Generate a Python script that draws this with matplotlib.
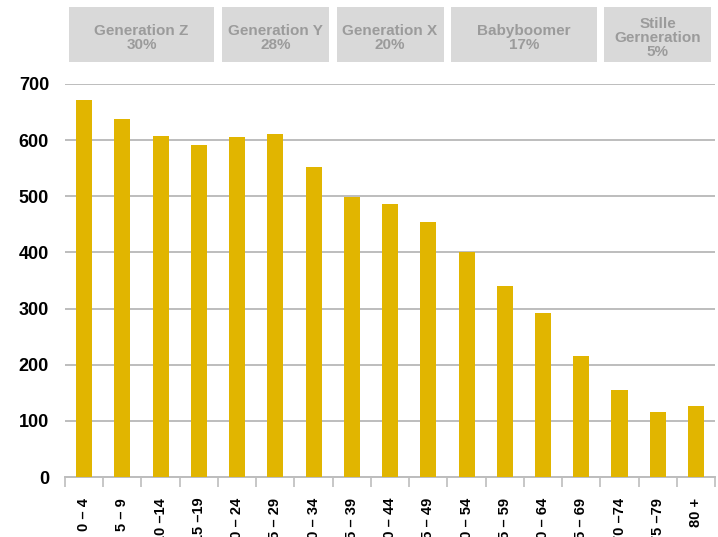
import numpy as np
import matplotlib.pyplot as plt
from matplotlib.patches import Rectangle
from matplotlib.transforms import blended_transform_factory

plt.rcParams['font.family'] = ['Liberation Sans', 'DejaVu Sans']

# Population by age group
age_groups = ["0 – 4", "5 – 9", "10 –14", "15 –19", "20 – 24", "25 – 29", "30 – 34",
              "35 – 39", "40 – 44", "45 – 49", "50 – 54", "55 – 59", "60 – 64",
              "65 – 69", "70 –74", "75 –79", "80 +"]
population = [672, 638, 608, 592, 606, 611, 552, 499, 487, 455, 401, 340, 292, 216, 155, 116, 126]

# Generations: label, share, first and last age group index
gen_labels = ["Generation Z", "Generation Y", "Generation X", "Babyboomer", "Stille\nGerneration"]
gen_shares = ["30%", "28%", "20%", "17%", "5%"]
gen_first = [0, 4, 7, 10, 14]
gen_last = [3, 6, 9, 13, 16]

bar_color = "#e1b500"
grid_color = "#bdbdbd"

fig = plt.figure(figsize=(7.18, 5.37), dpi=100)
ax = fig.add_axes([0.0905, 0.1117, 0.9055, 0.7319])

x = np.arange(len(population))
ax.bar(x, population, width=0.42, color=bar_color, zorder=3)

ax.set_xlim(-0.5, len(population) - 0.5)
ax.set_ylim(0, 700)
ax.set_yticks(np.arange(0, 701, 100))
ax.yaxis.grid(True, color=grid_color, linewidth=1.4, zorder=0)
ax.tick_params(axis='y', length=0, pad=11.5, labelsize=13)
for lbl in ax.get_yticklabels():
    lbl.set_fontweight('bold')

# category labels at bar centres, tick marks at category boundaries
ax.set_xticks(x)
ax.set_xticklabels(age_groups, rotation=90, fontsize=10.5, fontweight='bold',
                   va='top', ha='center')
ax.tick_params(axis='x', which='major', length=0, pad=15)
ax.set_xticks(np.arange(-0.5, len(population), 1), minor=True)
ax.tick_params(axis='x', which='minor', length=7, width=1.2, color=grid_color)

for side in ['top', 'right', 'left']:
    ax.spines[side].set_visible(False)
ax.spines['bottom'].set_color(grid_color)
ax.spines['bottom'].set_linewidth(1.4)

# generation header boxes above the chart
trans = blended_transform_factory(ax.transData, fig.transFigure)
box_bottom = 1 - 62 / 537
box_top = 1 - 7 / 537
inset = 0.1
for label, share, first, last in zip(gen_labels, gen_shares, gen_first, gen_last):
    x0 = first - 0.5 + inset
    x1 = last + 0.5 - inset
    ax.add_patch(Rectangle((x0, box_bottom), x1 - x0, box_top - box_bottom,
                           transform=trans, facecolor="#d9d9d9", edgecolor='none',
                           clip_on=False))
    ax.text((x0 + x1) / 2, (box_bottom + box_top) / 2 - 0.006, f"{label}\n{share}",
            transform=trans, ha='center', va='center', fontsize=11,
            fontweight='bold', color="#9b9b9b", linespacing=1.0)

fig.savefig("out.png", dpi=100)
